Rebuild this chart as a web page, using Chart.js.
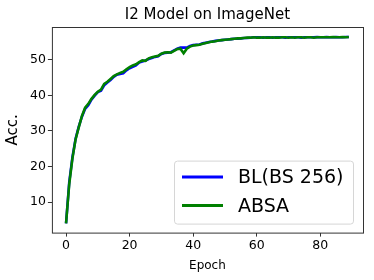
<!DOCTYPE html>
<html>
<head>
<meta charset="utf-8">
<script src="https://cdn.jsdelivr.net/npm/chart.js@4"></script>
<style>
  body { margin: 0; background: #fff; }
  #wrap { width: 374px; height: 280px; }
</style>
</head>
<body>
<div id="wrap"><canvas id="chart_acc"></canvas></div>
<script>
const EPOCHS = Array.from({ length: 90 }, (_, i) => i);

const BL_ACC = [
  4.0, 15.5, 22.5, 27.8, 31.2, 34.0, 36.2, 37.2, 38.8, 39.9,
  40.9, 41.3, 42.8, 43.6, 44.3, 45.2, 45.8, 46.0, 46.2, 47.0,
  47.6, 48.0, 48.4, 49.2, 49.5, 49.8, 50.2, 50.5, 50.8, 51.0,
  51.6, 51.9, 52.0, 52.1, 52.6, 53.1, 53.4, 53.4, 53.4, 53.9,
  54.1, 54.2, 54.3, 54.6, 54.8, 55.0, 55.1, 55.3, 55.4, 55.5,
  55.6, 55.7, 55.8, 55.9, 55.9, 56.0, 56.1, 56.1, 56.2, 56.3,
  56.3, 56.3, 56.2, 56.3, 56.3, 56.2, 56.3, 56.3, 56.3, 56.2,
  56.3, 56.3, 56.3, 56.3, 56.2, 56.3, 56.3, 56.3, 56.3, 56.4,
  56.3, 56.3, 56.4, 56.3, 56.3, 56.4, 56.3, 56.3, 56.4, 56.4
];

const ABSA_ACC = [
  4.0, 15.0, 22.2, 27.6, 31.0, 34.2, 36.5, 37.6, 39.0, 40.1,
  41.0, 41.6, 43.2, 43.8, 44.6, 45.4, 45.9, 46.3, 46.6, 47.3,
  47.9, 48.4, 48.7, 49.3, 49.8, 49.7, 50.4, 50.7, 50.9, 51.1,
  51.7, 52.0, 52.1, 52.0, 52.5, 53.0, 53.1, 51.8, 53.1, 53.7,
  54.0, 54.1, 54.2, 54.5, 54.7, 54.9, 55.1, 55.2, 55.4, 55.5,
  55.6, 55.7, 55.8, 55.9, 56.0, 56.0, 56.1, 56.2, 56.2, 56.3,
  56.2, 56.2, 56.3, 56.2, 56.2, 56.3, 56.2, 56.2, 56.3, 56.3,
  56.2, 56.3, 56.2, 56.3, 56.3, 56.2, 56.3, 56.3, 56.2, 56.3,
  56.3, 56.3, 56.3, 56.3, 56.4, 56.3, 56.3, 56.4, 56.3, 56.4
];

const X_TICKS = [0, 20, 40, 60, 80];
const Y_TICKS = [10, 20, 30, 40, 50];

const FONT = "'DejaVu Sans', sans-serif";

// matplotlib style frame round the plot
const framePlugin = {
  id: 'frame',
  afterLayout(chart) {
    // centre the title over the plot, not the canvas
    const t = chart.titleBlock;
    t.left = chart.chartArea.left;
    t.right = chart.chartArea.right;
    t.width = t.right - t.left;
  },
  afterDatasetsDraw(chart) {
    const { ctx, chartArea: a } = chart;
    ctx.save();
    ctx.strokeStyle = '#333';
    ctx.lineWidth = 1;
    ctx.strokeRect(a.left + 0.5, a.top + 0.5, a.right - a.left, a.bottom - a.top);
    ctx.restore();
  }
};

// legend box in the lower right of the plot
const boxLegend = {
  id: 'boxLegend',
  afterDraw(chart) {
    const { ctx, chartArea: a } = chart;
    const sets = chart.data.datasets;
    const w = 179, h = 63;
    const x = a.right - 10 - w, y = a.bottom - 9 - h;
    ctx.save();
    ctx.fillStyle = 'rgba(255,255,255,0.8)';
    ctx.strokeStyle = '#d6d6d6';
    ctx.lineWidth = 1;
    ctx.beginPath();
    ctx.roundRect(x + 0.5, y + 0.5, w, h, 3);
    ctx.fill();
    ctx.stroke();
    ctx.font = "19px " + FONT;
    ctx.textBaseline = 'middle';
    sets.forEach((ds, i) => {
      const ly = y + 16.5 + i * 28.5;
      ctx.strokeStyle = ds.borderColor;
      ctx.lineWidth = 3;
      ctx.beginPath();
      ctx.moveTo(x + 8, ly);
      ctx.lineTo(x + 49, ly);
      ctx.stroke();
      ctx.fillStyle = '#000';
      ctx.fillText(ds.label, x + 64, ly + 1);
    });
    ctx.restore();
  }
};

new Chart(document.getElementById('chart_acc'), {
  type: 'line',
  data: {
    labels: EPOCHS,
    datasets: [{
      label: 'BL(BS 256)',
      data: BL_ACC,
      borderColor: '#0000ff',
      borderWidth: 2.6,
      pointRadius: 0,
      tension: 0,
      fill: false,
      order: 1
    }, {
      label: 'ABSA',
      data: ABSA_ACC,
      borderColor: '#008000',
      borderWidth: 2.6,
      pointRadius: 0,
      tension: 0,
      fill: false,
      order: 0
    }]
  },
  options: {
    responsive: true,
    maintainAspectRatio: false,
    animation: false,
    layout: { padding: { left: 4, right: 11, top: 6, bottom: 7 } },
    plugins: {
      legend: { display: false },
      tooltip: { enabled: false },
      title: {
        display: true,
        text: 'I2 Model on ImageNet',
        color: '#000',
        font: { family: FONT, size: 15, weight: 'normal' },
        padding: { top: 0, bottom: 3 }
      }
    },
    scales: {
      x: {
        type: 'linear',
        min: -4.45,
        max: 93.45,
        afterBuildTicks(scale) { scale.ticks = X_TICKS.map(v => ({ value: v })); },
        ticks: { color: '#000', font: { family: FONT, size: 12.5 }, padding: 2, maxRotation: 0 },
        grid: { drawOnChartArea: false, drawTicks: true, tickLength: 4, color: '#333' },
        border: { display: false },
        title: {
          display: true,
          text: 'Epoch',
          color: '#000',
          font: { family: FONT, size: 12 },
          padding: { top: 3, bottom: 0 }
        }
      },
      y: {
        min: 1.4,
        max: 59.2,
        afterBuildTicks(scale) { scale.ticks = Y_TICKS.map(v => ({ value: v })); },
        ticks: { color: '#000', font: { family: FONT, size: 12.5 }, padding: 2 },
        grid: { drawOnChartArea: false, drawTicks: true, tickLength: 4, color: '#333' },
        border: { display: false },
        title: {
          display: true,
          text: 'Acc.',
          color: '#000',
          font: { family: FONT, size: 15 },
          padding: { top: 0, bottom: 6 }
        }
      }
    }
  },
  plugins: [framePlugin, boxLegend]
});
</script>
</body>
</html>
